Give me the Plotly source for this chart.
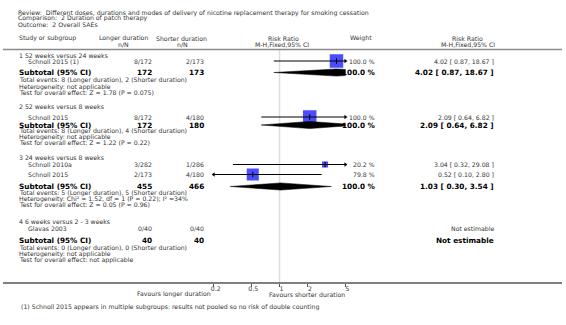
import math
import plotly.graph_objects as go

# ---------------- data ----------------
title_lines = [
    "Review:  Different doses, durations and modes of delivery of nicotine replacement therapy for smoking cessation",
    "Comparison:  2 Duration of patch therapy",
    "Outcome:  2 Overall SAEs",
]
group_names = ["1 52 weeks versus 24 weeks", "2 52 weeks versus 8 weeks",
               "3 24 weeks versus 8 weeks", "4 6 weeks versus 2 - 3 weeks"]

study_group = [0, 1, 2, 2, 3]
study_names = ["Schnoll 2015 (1)", "Schnoll 2015", "Schnoll 2010a", "Schnoll 2015", "Glavas 2003"]
study_long = ["8/172", "8/172", "3/282", "2/173", "0/40"]
study_short = ["2/173", "4/180", "1/286", "4/180", "0/40"]
study_weight = [100.0, 100.0, 20.2, 79.8, None]
study_rr = [4.02, 2.09, 3.04, 0.52, None]
study_lo = [0.87, 0.64, 0.32, 0.10, None]
study_hi = [18.67, 6.82, 29.08, 2.80, None]

sub_long_n = [172, 172, 455, 40]
sub_short_n = [173, 180, 466, 40]
sub_weight = [100.0, 100.0, 100.0, None]
sub_rr = [4.02, 2.09, 1.03, None]
sub_lo = [0.87, 0.64, 0.30, None]
sub_hi = [18.67, 6.82, 3.54, None]
sub_events = [
    "Total events: 8 (Longer duration), 2 (Shorter duration)",
    "Total events: 8 (Longer duration), 4 (Shorter duration)",
    "Total events: 5 (Longer duration), 5 (Shorter duration)",
    "Total events: 0 (Longer duration), 0 (Shorter duration)",
]
sub_het = [
    "Heterogeneity: not applicable",
    "Heterogeneity: not applicable",
    "Heterogeneity: Chi² = 1.52, df = 1 (P = 0.22); I² =34%",
    "Heterogeneity: not applicable",
]
sub_test = [
    "Test for overall effect: Z = 1.78 (P = 0.075)",
    "Test for overall effect: Z = 1.22 (P = 0.22)",
    "Test for overall effect: Z = 0.05 (P = 0.96)",
    "Test for overall effect: not applicable",
]
tick_vals = [0.2, 0.5, 1, 2, 5]
tick_text = ["0.2", "0.5", "1", "2", "5"]
axis_min, axis_max = 0.2, 5
favours_left = "Favours longer duration"
favours_right = "Favours shorter duration"
footnote = "(1) Schnoll 2015 appears in multiple subgroups: results not pooled so no risk of double counting"

# ---------------- layout (pixel positions) ----------------
W, H = 566, 325
FONT = "DejaVu Sans"
FS = 6.2
FSB = 7.3
TXT = "#333333"

y_group = [55.5, 106.5, 157.5, 221]
y_study = [61, 117, 164.5, 174.5, 228]
y_sub = [72.5, 125, 186.5, 240]
y_events = [79.5, 130.5, 192.5, 247.5]
y_het = [86.5, 136.5, 198.5, 253.5]
y_test = [92.5, 142.5, 204.5, 259.5]

X_LEFT = 14
X_STUDY = 23
X_LONG = 153
X_SHORT = 206
X_WEIGHT = 379
X_RR = 499
X_FOREST0, X_FOREST1 = 213.3, 346.7
Y_AXIS = 283

fig = go.Figure()
ann = []


def px(x):
    return x / W


def text(x, y, s, anchor="left", size=FS, bold=False, color=TXT):
    ann.append(dict(
        x=px(x), y=y, xref="paper", yref="y", text=("<b>%s</b>" % s) if bold else s,
        showarrow=False, xanchor=anchor, yanchor="middle",
        font=dict(family=FONT, size=size, color="#000000" if bold else color),
    ))


# titles
for i, t in enumerate(title_lines):
    text(13, 12.5 + 5.8 * i, t)

# headers
text(X_LEFT, 38, "Study or subgroup")
text(122.5, 38, "Longer duration", anchor="center")
text(122.5, 44, "n/N", anchor="center")
text(180.5, 38, "Shorter duration", anchor="center")
text(181.5, 44, "n/N", anchor="center")
text(284, 38, "Risk Ratio", anchor="center")
text(282, 44, "M-H,Fixed,95% CI", anchor="center")
text(362, 38, "Weight", anchor="center")
text(470, 38, "Risk Ratio", anchor="center")
text(471, 44, "M-H,Fixed,95% CI", anchor="center")

# groups
for g in range(4):
    text(X_LEFT, y_group[g], group_names[g])
    text(X_LEFT, y_sub[g], "Subtotal (95% CI)", size=FSB, bold=True)
    text(X_LONG, y_sub[g], str(sub_long_n[g]), anchor="right", size=FSB, bold=True)
    text(X_SHORT, y_sub[g], str(sub_short_n[g]), anchor="right", size=FSB, bold=True)
    if sub_weight[g] is not None:
        text(X_WEIGHT + 1, y_sub[g], "%.1f %%" % sub_weight[g], anchor="right", size=FSB, bold=True)
        text(X_RR, y_sub[g], "%.2f [ %.2f, %.2f ]" % (sub_rr[g], sub_lo[g], sub_hi[g]),
             anchor="right", size=FSB, bold=True)
    else:
        text(X_RR, y_sub[g], "Not estimable", anchor="right", size=FSB, bold=True)
    text(X_LEFT, y_events[g], sub_events[g])
    text(X_LEFT, y_het[g], sub_het[g])
    text(X_LEFT, y_test[g], sub_test[g])

# studies
for i in range(len(study_names)):
    y = y_study[i]
    text(X_STUDY, y, study_names[i])
    text(X_LONG, y, study_long[i], anchor="right")
    text(X_SHORT, y, study_short[i], anchor="right")
    if study_weight[i] is not None:
        text(X_WEIGHT, y, "%.1f %%" % study_weight[i], anchor="right")
        text(X_RR, y, "%.2f [ %.2f, %.2f ]" % (study_rr[i], study_lo[i], study_hi[i]), anchor="right")
    else:
        text(X_RR, y, "Not estimable", anchor="right")

text(213, 294, favours_left, anchor="right")
text(267, 294, favours_right, anchor="left")
text(16, 307, footnote)

# ---------------- forest marks ----------------
# squares
sq_x, sq_y, sq_s = [], [], []
for i in range(len(study_names)):
    if study_rr[i] is None:
        continue
    sq_x.append(study_rr[i])
    sq_y.append(y_study[i])
    sq_s.append(13.5 * math.sqrt(study_weight[i] / 100.0))
fig.add_trace(go.Scatter(x=sq_x, y=sq_y, mode="markers", hoverinfo="skip",
                         marker=dict(symbol="square", size=sq_s, color="#0000ff",
                                     line=dict(width=0))))
# CI lines
for i in range(len(study_names)):
    if study_rr[i] is None:
        continue
    y = y_study[i]
    fig.add_trace(go.Scatter(x=[study_lo[i], study_hi[i]], y=[y, y], mode="lines",
                             hoverinfo="skip", line=dict(color="#000000", width=1)))
    fig.add_trace(go.Scatter(x=[study_rr[i]], y=[y], mode="markers", hoverinfo="skip",
                             marker=dict(symbol="line-ns", size=4,
                                         line=dict(color="#000000", width=1))))
    if study_hi[i] > axis_max:
        fig.add_trace(go.Scatter(x=[axis_max], y=[y], mode="markers", hoverinfo="skip",
                                 cliponaxis=False,
                                 marker=dict(symbol="triangle-right", size=4, color="#000000")))
    if study_lo[i] < axis_min:
        fig.add_trace(go.Scatter(x=[axis_min], y=[y], mode="markers", hoverinfo="skip",
                                 cliponaxis=False,
                                 marker=dict(symbol="triangle-left", size=4, color="#000000")))

# diamonds
DH = 3.6
for g in range(4):
    if sub_rr[g] is None:
        continue
    y = y_sub[g]
    fig.add_trace(go.Scatter(
        x=[sub_lo[g], sub_rr[g], sub_hi[g], sub_rr[g], sub_lo[g]],
        y=[y, y - DH, y, y + DH, y], mode="lines", fill="toself",
        fillcolor="#000000", line=dict(color="#000000", width=0.5), hoverinfo="skip"))

# ---------------- shapes ----------------
shapes = [
    dict(type="line", xref="paper", yref="y", x0=0, x1=1, y0=49.5, y1=49.5,
         line=dict(color="#8a8a8a", width=1.5)),
    dict(type="line", xref="paper", yref="y", x0=0, x1=1, y0=Y_AXIS, y1=Y_AXIS,
         line=dict(color="#555555", width=1.3)),
    dict(type="line", xref="x", yref="y", x0=1, x1=1, y0=50, y1=Y_AXIS,
         line=dict(color="#dddddd", width=1.5), layer="below"),
]

fig.update_layout(
    width=W, height=H, margin=dict(l=0, r=0, t=0, b=0),
    paper_bgcolor="white", plot_bgcolor="rgba(0,0,0,0)", showlegend=False,
    annotations=ann, shapes=shapes,
    xaxis=dict(type="log", range=[math.log10(axis_min), math.log10(axis_max)],
               domain=[px(X_FOREST0), px(X_FOREST1)],
               tickvals=tick_vals, ticktext=tick_text, ticks="outside", ticklen=3,
               tickcolor="#555555", tickwidth=1,
               tickfont=dict(family=FONT, size=FS, color=TXT),
               ticklabelshift=2, ticklabelstandoff=-3,
               showgrid=False, zeroline=False, showline=False,
               anchor="free", position=(H - Y_AXIS) / H, fixedrange=True),
    yaxis=dict(range=[H, 0], domain=[0, 1], visible=False, fixedrange=True),
)

fig.write_html("out.html", config={"displayModeBar": False},
               post_script="document.body.style.margin='0';document.body.style.overflow='hidden';")
